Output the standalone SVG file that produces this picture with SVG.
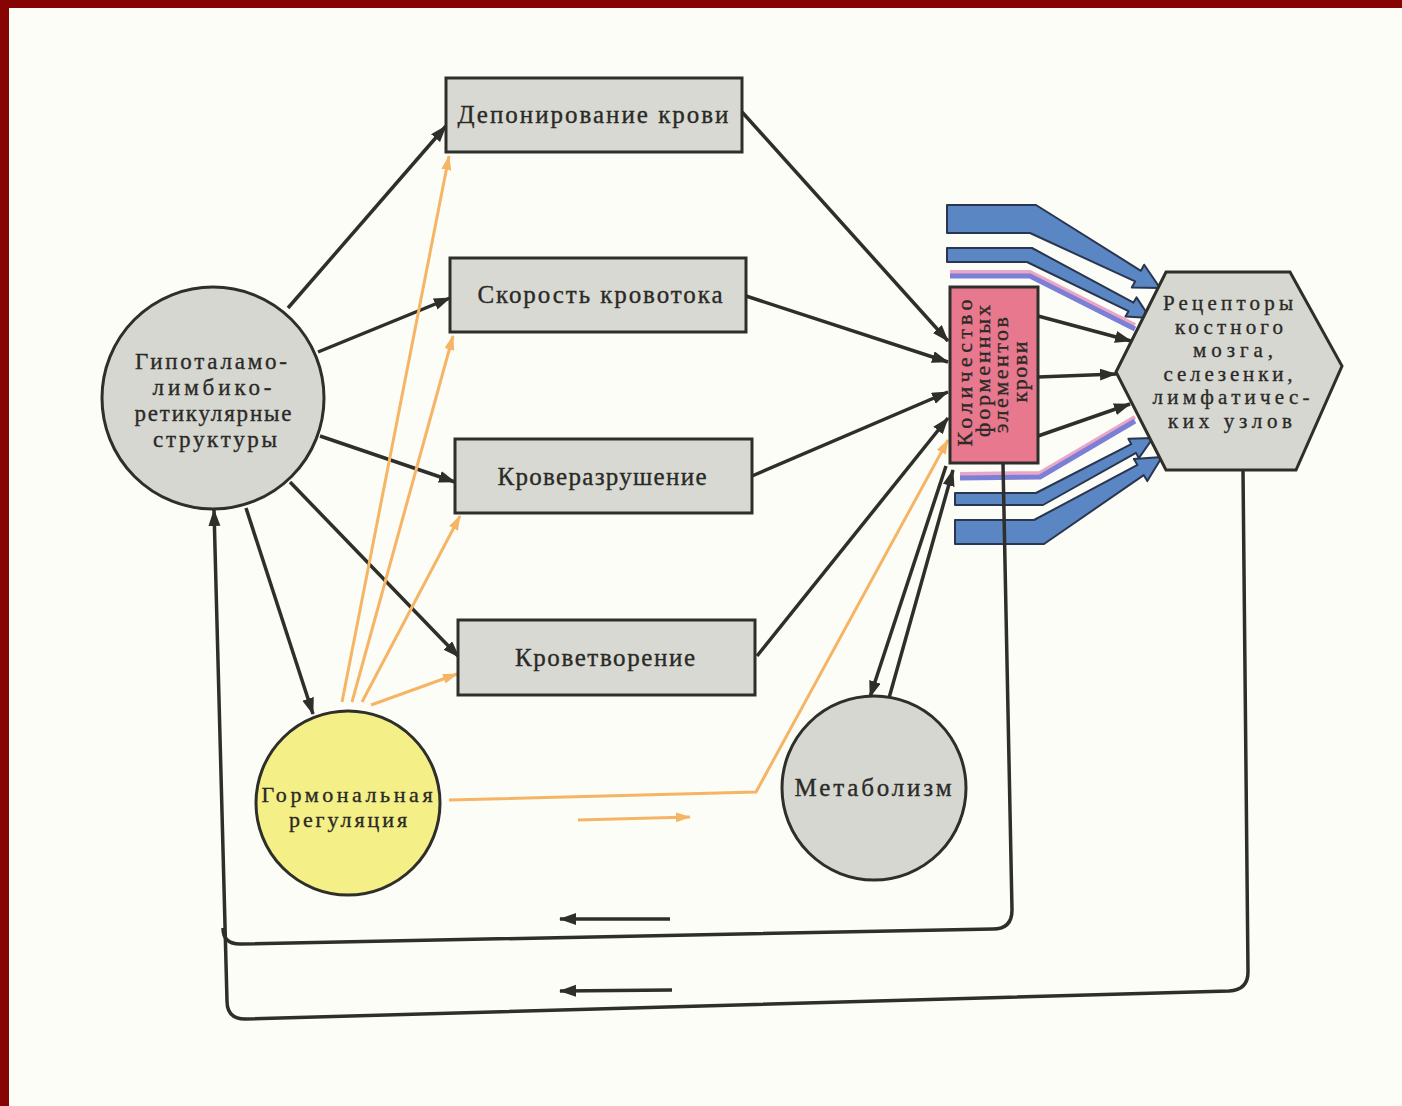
<svg xmlns="http://www.w3.org/2000/svg" width="1402" height="1106" viewBox="0 0 1402 1106">
<defs>
<style>
.t{font-family:"Liberation Serif","DejaVu Serif",serif;font-size:23px;fill:#2a2a26;stroke:#2a2a26;stroke-width:0.35;text-anchor:middle}
.big{font-size:25px}
.box{fill:#d9d9d4;stroke:#2e2e2a;stroke-width:3}
.circ{fill:#d7d7d2;stroke:#2e2e2a;stroke-width:3}
.blk{fill:none;stroke:#2e2e2a;stroke-width:3.5}
.org{fill:none;stroke:#f5b565;stroke-width:3}
.blue{fill:#5a86c4;stroke:#2a3550;stroke-width:2;stroke-linejoin:round}
.lav{fill:none;stroke:#7b7fd6;stroke-width:5}
.lavs{fill:none;stroke:#eaa6c6;stroke-width:4}
</style>
<marker id="ab" markerUnits="userSpaceOnUse" markerWidth="18" markerHeight="14" refX="16" refY="6" orient="auto"><path d="M0,0 L17,6 L0,12 Z" fill="#2e2e2a"/></marker>
<marker id="ao" markerUnits="userSpaceOnUse" markerWidth="16" markerHeight="12" refX="14" refY="5" orient="auto"><path d="M0,0 L15,5 L0,10 Z" fill="#f5b565"/></marker>
</defs>
<rect width="1402" height="1106" fill="#fdfdf8"/>
<rect x="0" y="0" width="1402" height="8" fill="#870404"/>
<rect x="0" y="0" width="9" height="1106" fill="#870404"/>

<g id="connectors">
<line class="blk" x1="288" y1="308" x2="446" y2="126" marker-end="url(#ab)"/>
<line class="blk" x1="318" y1="352" x2="450" y2="298" marker-end="url(#ab)"/>
<line class="blk" x1="320" y1="436" x2="455" y2="482" marker-end="url(#ab)"/>
<line class="blk" x1="290" y1="482" x2="459" y2="657" marker-end="url(#ab)"/>
<line class="blk" x1="246" y1="508" x2="313" y2="714" marker-end="url(#ab)"/>
<line class="blk" x1="742" y1="112" x2="948" y2="341" marker-end="url(#ab)"/>
<line class="blk" x1="746" y1="296" x2="948" y2="362" marker-end="url(#ab)"/>
<line class="blk" x1="752" y1="476" x2="948" y2="392" marker-end="url(#ab)"/>
<line class="blk" x1="757" y1="656" x2="948" y2="418" marker-end="url(#ab)"/>
<line class="blk" x1="946" y1="466" x2="870" y2="697" marker-end="url(#ab)"/>
<line class="blk" x1="889" y1="698" x2="953" y2="470" marker-end="url(#ab)"/>
<line class="blk" x1="1038" y1="316" x2="1131" y2="341" marker-end="url(#ab)"/>
<line class="blk" x1="1038" y1="377" x2="1116" y2="374" marker-end="url(#ab)"/>
<line class="blk" x1="1038" y1="436" x2="1130" y2="404" marker-end="url(#ab)"/>

<line class="org" x1="342" y1="702" x2="449" y2="156" marker-end="url(#ao)"/>
<line class="org" x1="352" y1="702" x2="453" y2="336" marker-end="url(#ao)"/>
<line class="org" x1="362" y1="702" x2="460" y2="516" marker-end="url(#ao)"/>
<line class="org" x1="371" y1="705" x2="457" y2="674" marker-end="url(#ao)"/>
<polyline class="org" points="449,800 756,792 948,440" stroke-width="4" marker-end="url(#ao)"/>
<line class="org" x1="578" y1="820" x2="690" y2="817" stroke-width="5" marker-end="url(#ao)"/>

<polyline class="lavs" points="950,272 1030,272 1135,325"/>
<polyline class="lav" points="950,276 1030,276 1135,329"/>
<polyline class="lavs" points="960,474 1040,473 1135,417"/>
<polyline class="lav" points="960,478 1040,477 1135,421"/>
<path class="blue" d="M947,205 L1036,205 L1140.9,270.8 L1144.2,264.7 L1160,288 L1131.8,287.5 L1135.1,281.4 L1030,233 L947,233 Z"/>
<path class="blue" d="M947,248 L1032,248 L1133.5,302.6 L1136.5,297.4 L1150,318 L1125.5,316.4 L1128.5,311.2 L1027,262 L947,262 Z"/>
<path class="blue" d="M955,493 L1036,493 L1131.2,444.1 L1128.4,438.8 L1153,438 L1138.8,458.2 L1136,452.9 L1043,505 L955,505 Z"/>
<path class="blue" d="M955,520 L1034,520 L1137.5,464.9 L1133.9,458.9 L1162,457 L1147.3,481.1 L1143.7,475.1 L1044,544 L955,544 Z"/>

<path class="blk" d="M1003,463 L1012,910 Q1012,929 993,929 L240,944 Q223,944 223,928"/>
<path class="blk" d="M1243,470 L1248,972 Q1248,990 1229,991 L245,1019 Q227,1019 227,1001 L214,510" marker-end="url(#ab)"/>
<line class="blk" x1="670" y1="919" x2="560" y2="919" marker-end="url(#ab)"/>
<line class="blk" x1="672" y1="990" x2="560" y2="991" marker-end="url(#ab)"/>
</g>

<g id="hypothalamus">
<circle class="circ" cx="213" cy="398" r="111"/>
<text class="t" x="211" y="369" textLength="152" lengthAdjust="spacing">Гипоталамо-</text>
<text class="t" x="212" y="395" textLength="119" lengthAdjust="spacing">лимбико-</text>
<text class="t" x="213" y="421" textLength="157" lengthAdjust="spacing">ретикулярные</text>
<text class="t" x="215" y="447" textLength="124" lengthAdjust="spacing">структуры</text>
</g>

<g id="hormonal">
<circle cx="348" cy="803" r="92" fill="#f4ef86" stroke="#2e2e2a" stroke-width="3"/>
<text class="t" style="font-size:22px" x="347" y="802" textLength="171" lengthAdjust="spacing">Гормональная</text>
<text class="t" style="font-size:22px" x="348" y="827" textLength="118" lengthAdjust="spacing">регуляция</text>
</g>

<g id="metabolism">
<circle class="circ" cx="874" cy="788" r="92"/>
<text class="t big" x="873" y="796" textLength="157" lengthAdjust="spacing">Метаболизм</text>
</g>

<g id="box-deposit">
<rect class="box" x="446" y="78" width="296" height="74"/>
<text class="t big" x="593" y="123" textLength="271" lengthAdjust="spacing">Депонирование крови</text>
</g>
<g id="box-flow">
<rect class="box" x="450" y="258" width="296" height="74"/>
<text class="t big" x="600" y="303" textLength="245" lengthAdjust="spacing">Скорость кровотока</text>
</g>
<g id="box-destruction">
<rect class="box" x="455" y="439" width="297" height="74"/>
<text class="t big" x="602" y="485" textLength="209" lengthAdjust="spacing">Кроверазрушение</text>
</g>
<g id="box-hematopoiesis">
<rect class="box" x="458" y="620" width="297" height="75"/>
<text class="t big" x="605" y="666" textLength="180" lengthAdjust="spacing">Кроветворение</text>
</g>

<g id="blood-count">
<rect x="950" y="287" width="88" height="176" fill="#e8788e" stroke="#2e2e2a" stroke-width="3"/>
<text class="t" style="font-size:22px" transform="translate(972,373) rotate(-90)" textLength="147" lengthAdjust="spacing">Количество</text>
<text class="t" style="font-size:22px" transform="translate(990,371) rotate(-90)" textLength="132" lengthAdjust="spacing">форменных</text>
<text class="t" style="font-size:22px" transform="translate(1008,375) rotate(-90)" textLength="116" lengthAdjust="spacing">элементов</text>
<text class="t" style="font-size:22px" transform="translate(1027,372) rotate(-90)" textLength="61" lengthAdjust="spacing">крови</text>
</g>

<g id="receptors">
<polygon points="1116,372 1166,272 1290,272 1342,366 1296,470 1166,470" fill="#d7d7d2" stroke="#2e2e2a" stroke-width="3"/>
<text class="t" style="font-size:21px" x="1228" y="310" textLength="130" lengthAdjust="spacing">Рецепторы</text>
<text class="t" style="font-size:21px" x="1229" y="333.5" textLength="108" lengthAdjust="spacing">костного</text>
<text class="t" style="font-size:21px" x="1233" y="357" textLength="80" lengthAdjust="spacing">мозга,</text>
<text class="t" style="font-size:21px" x="1228" y="380.5" textLength="129" lengthAdjust="spacing">селезенки,</text>
<text class="t" style="font-size:21px" x="1231" y="404" textLength="157" lengthAdjust="spacing">лимфатичес-</text>
<text class="t" style="font-size:21px" x="1230" y="427.5" textLength="124" lengthAdjust="spacing">ких  узлов</text>
</g>
</svg>
